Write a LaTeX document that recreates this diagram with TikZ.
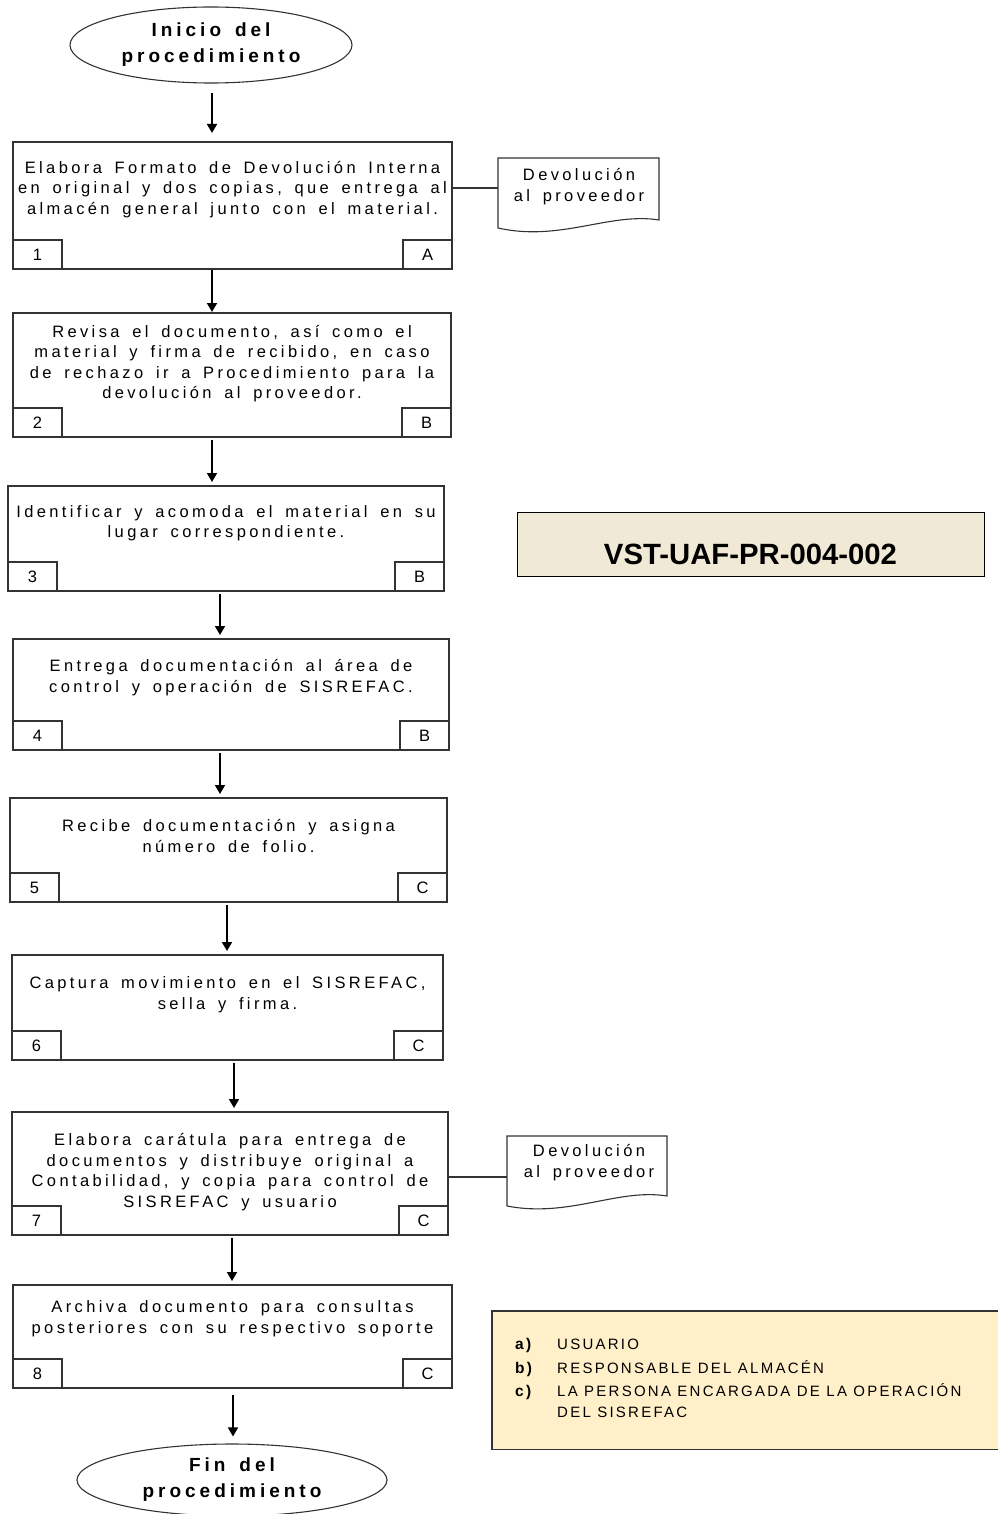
\documentclass[tikz,border=0pt]{standalone}
\usepackage{fontspec}
\setmainfont{Liberation Sans}
\newfontfamily\bodyfont[LetterSpace=20.5,WordSpace=1.6]{Liberation Sans}
\newfontfamily\headfont[LetterSpace=21,WordSpace=1.5]{Liberation Sans}
\newfontfamily\notefont[LetterSpace=15]{Liberation Sans}
\usetikzlibrary{arrows.meta,shapes.geometric}
\definecolor{codefill}{HTML}{F0E9D5}
\definecolor{notefill}{HTML}{FFF0CA}
\definecolor{edge}{HTML}{333333}
\tikzset{
  stepbox/.style={draw=edge, line width=1.3pt, rectangle, inner sep=0pt, outer sep=0pt, anchor=north west},
  numbox/.style={draw=edge, line width=1.1pt, rectangle, inner sep=0pt, outer sep=0pt,
    minimum width=49pt, minimum height=29pt, font=\bodyfont\fontsize{16.5}{18}\selectfont},
  steptext/.style={align=center, inner sep=0pt, font=\bodyfont\fontsize{16.5}{20.5}\selectfont},
  terminal/.style={ellipse, draw=edge, line width=1.1pt, inner sep=0pt, align=center,
    font=\headfont\bfseries\fontsize{19}{26}\selectfont},
  flow/.style={-{Triangle[length=9pt,width=10pt]}, line width=1.7pt, shorten <=3pt, shorten >=4pt},
  link/.style={draw=edge, line width=1.1pt},
  docshape/.style={draw=edge, line width=1.1pt, fill=white},
  notekey/.style={anchor=base west, inner sep=0pt, font=\notefont\bfseries\fontsize{15.5}{18}\selectfont},
  noteitem/.style={anchor=base west, inner sep=0pt, font=\notefont\fontsize{15}{18}\selectfont},
}
\begin{document}
\begin{tikzpicture}[x=1pt,y=-1pt]
\useasboundingbox (0,0) rectangle (997,1514);

% start and end of the procedure
\node[terminal, minimum width=282pt, minimum height=76pt] (start) at (211,45) {Inicio del\\procedimiento};
\node[terminal, minimum width=310pt, minimum height=72pt] (end) at (232,1480) {Fin del\\procedimiento};

% step 1
\node[stepbox, minimum width=439pt, minimum height=127pt] (s1) at (13,142) {};
\node[numbox, anchor=south west] (n1) at (s1.south west) {1};
\node[numbox, anchor=south east] (r1) at (s1.south east) {A};
\node[steptext] (t1) at (232.5,189.5) {Elabora Formato de Devolución Interna\\en original y dos copias, que entrega al\\almacén general junto con el material.};

% step 2
\node[stepbox, minimum width=438pt, minimum height=124pt] (s2) at (13,313) {};
\node[numbox, anchor=south west] (n2) at (s2.south west) {2};
\node[numbox, anchor=south east] (r2) at (s2.south east) {B};
\node[steptext] (t2) at (232,363.5) {Revisa el documento, así como el\\material y firma de recibido, en caso\\de rechazo ir a Procedimiento para la\\devolución al proveedor.};

% step 3
\node[stepbox, minimum width=436pt, minimum height=105pt] (s3) at (8,486) {};
\node[numbox, anchor=south west] (n3) at (s3.south west) {3};
\node[numbox, anchor=south east] (r3) at (s3.south east) {B};
\node[steptext] (t3) at (226,523) {Identificar y acomoda el material en su\\lugar correspondiente.};

% step 4
\node[stepbox, minimum width=436pt, minimum height=111pt] (s4) at (13,639) {};
\node[numbox, anchor=south west] (n4) at (s4.south west) {4};
\node[numbox, anchor=south east] (r4) at (s4.south east) {B};
\node[steptext] (t4) at (231,677.5) {Entrega documentación al área de\\control y operación de SISREFAC.};

% step 5
\node[stepbox, minimum width=437pt, minimum height=104pt] (s5) at (10,798) {};
\node[numbox, anchor=south west] (n5) at (s5.south west) {5};
\node[numbox, anchor=south east] (r5) at (s5.south east) {C};
\node[steptext] (t5) at (228.5,836) {Recibe documentación y asigna\\número de folio.};

% step 6
\node[stepbox, minimum width=431pt, minimum height=105pt] (s6) at (12,955) {};
\node[numbox, anchor=south west] (n6) at (s6.south west) {6};
\node[numbox, anchor=south east] (r6) at (s6.south east) {C};
\node[steptext] (t6) at (227.5,994.5) {Captura movimiento en el SISREFAC,\\sella y firma.};

% step 7
\node[stepbox, minimum width=436pt, minimum height=123pt] (s7) at (12,1112) {};
\node[numbox, anchor=south west] (n7) at (s7.south west) {7};
\node[numbox, anchor=south east] (r7) at (s7.south east) {C};
\node[steptext] (t7) at (230,1172) {Elabora carátula para entrega de\\documentos y distribuye original a\\Contabilidad, y copia para control de\\SISREFAC y usuario};

% step 8
\node[stepbox, minimum width=439pt, minimum height=103pt] (s8) at (13,1285) {};
\node[numbox, anchor=south west] (n8) at (s8.south west) {8};
\node[numbox, anchor=south east] (r8) at (s8.south east) {C};
\node[steptext] (t8) at (232.5,1318.5) {Archiva documento para consultas\\posteriores con su respectivo soporte};

% documents handed out
\draw[docshape] (498,158) -- (659,158) -- (659,220) .. controls (610,212) and (560,242) .. (498,228) -- cycle;
\node[steptext] (d1) at (579,186.5) {Devolución\\al proveedor};
\coordinate (d1in) at (498,188);
\draw[docshape] (507,1136) -- (667,1136) -- (667,1196) .. controls (618,1188) and (569,1218) .. (507,1206) -- cycle;
\node[steptext] (d2) at (589,1162.5) {Devolución\\al proveedor};
\coordinate (d2in) at (507,1177);
\draw[link] (s1.east |- d1in) -- (d1in);
\draw[link] (s7.east |- d2in) -- (d2in);

% columns of the flow arrows
\coordinate (a0) at (212,0);
\coordinate (a1) at (212,0);
\coordinate (a2) at (212,0);
\coordinate (a3) at (220,0);
\coordinate (a4) at (220,0);
\coordinate (a5) at (227,0);
\coordinate (a6) at (234,0);
\coordinate (a7) at (232,0);
\coordinate (a8) at (233,0);
\draw[flow, shorten <=9pt, shorten >=9pt] (start.south -| a0) -- (s1.north -| a0);
\draw[flow, shorten <=1pt, shorten >=1pt] (s1.south -| a1) -- (s2.north -| a1);
\draw[flow] (s2.south -| a2) -- (s3.north -| a2);
\draw[flow] (s3.south -| a3) -- (s4.north -| a3);
\draw[flow] (s4.south -| a4) -- (s5.north -| a4);
\draw[flow] (s5.south -| a5) -- (s6.north -| a5);
\draw[flow] (s6.south -| a6) -- (s7.north -| a6);
\draw[flow] (s7.south -| a7) -- (s8.north -| a7);
\draw[flow, shorten <=7pt, shorten >=7pt] (s8.south -| a8) -- (end.north -| a8);

% procedure code
\node[draw=black, line width=1.2pt, fill=codefill, anchor=north west, inner sep=0pt,
      minimum width=467pt, minimum height=64pt] (code) at (517,512) {};
\node[inner sep=0pt, font=\bfseries\fontsize{29.3}{34}\selectfont] (codetxt) at (750.5,554.5) {VST-UAF-PR-004-002};

% legend of the people in charge
\node[fill=notefill, anchor=north west, inner sep=0pt, minimum width=510pt, minimum height=138pt] (legend) at (492,1311) {};
\draw[link] (legend.north east) -- (legend.north west) -- (legend.south west) -- (legend.south east);
\node[notekey] (ka) at (515,1349) {a)};
\node[noteitem] (va) at (557,1349) {USUARIO};
\node[notekey] (kb) at (515,1373) {b)};
\node[noteitem] (vb) at (557,1373) {RESPONSABLE DEL ALMACÉN};
\node[notekey] (kc) at (515,1396) {c)};
\node[noteitem] (vc) at (557,1396) {LA PERSONA ENCARGADA DE LA OPERACIÓN};
\node[noteitem] (vd) at (557,1417) {DEL SISREFAC};
\end{tikzpicture}
\end{document}
